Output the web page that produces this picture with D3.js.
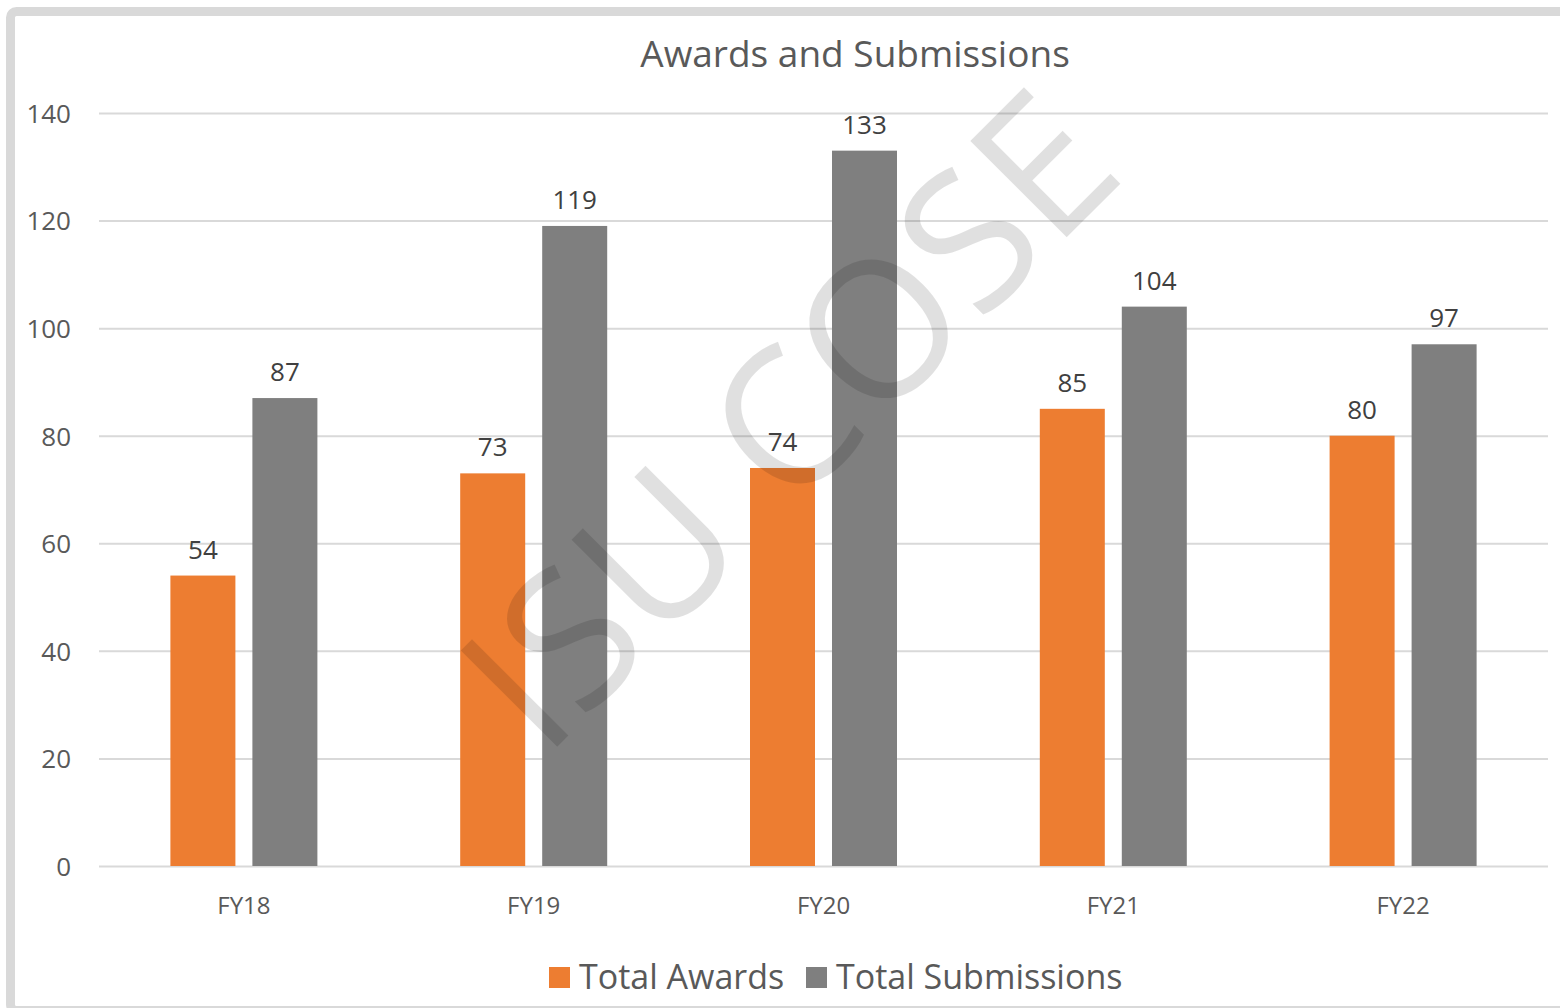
<!DOCTYPE html>
<html>
<head>
<meta charset="utf-8">
<script src="https://cdn.jsdelivr.net/npm/d3@7"></script>
<style>
  body { margin: 0; background: #fff; }
  text { font-family: "Open Sans", Lato, sans-serif; }
</style>
</head>
<body>
<div id="chart-area"></div>
<script>
// Data
var years = ["FY18", "FY19", "FY20", "FY21", "FY22"];
var series = ["Total Awards", "Total Submissions"];
var awards = [54, 73, 74, 85, 80];
var submissions = [87, 119, 133, 104, 97];
var yTicks = [0, 20, 40, 60, 80, 100, 120, 140];
var colors = ["#ED7D31", "#7F7F7F"];

var W = 1560, H = 1008;
var plot = { left: 99, right: 1548, top: 113, bottom: 866 };

var svg = d3.select("#chart-area")
    .append("svg")
        .attr("width", W)
        .attr("height", H);

// Frame
svg.append("rect")
    .attr("x", 10.5)
    .attr("y", 11.5)
    .attr("width", 1600)
    .attr("height", 999)
    .attr("rx", 6)
    .attr("fill", "#fff")
    .attr("stroke", "#d9d9d9")
    .attr("stroke-width", 9);

// Scales
var y = d3.scaleLinear()
    .domain([0, 140])
    .range([plot.bottom, plot.top]);
var x0 = d3.scaleBand()
    .domain(years)
    .range([plot.left, plot.right]);
var x1 = d3.scaleBand()
    .domain(series)
    .range([0, 147])
    .paddingInner(17 / 82);
var color = d3.scaleOrdinal().domain(series).range(colors);

// Gridlines
var yAxisCall = d3.axisLeft(y)
    .tickValues(yTicks)
    .tickSize(-(plot.right - plot.left))
    .tickPadding(28);
var yAxis = svg.append("g")
    .attr("class", "y axis")
    .attr("transform", "translate(" + plot.left + ",0)")
    .call(yAxisCall);
yAxis.select(".domain").remove();
yAxis.selectAll("line")
    .attr("stroke", "#d9d9d9")
    .attr("stroke-width", 2);
yAxis.selectAll("text")
    .attr("fill", "#595959")
    .attr("font-size", "26px")
    .attr("dy", "0.36em");

// X Axis
var xAxisCall = d3.axisBottom(x0).tickSize(0).tickPadding(31);
var xAxis = svg.append("g")
    .attr("class", "x axis")
    .attr("transform", "translate(0," + plot.bottom + ")")
    .call(xAxisCall);
xAxis.select(".domain").remove();
xAxis.selectAll("text")
    .attr("fill", "#595959")
    .attr("font-size", "24px")
    .attr("dy", "0.71em");

// Bars
var rows = years.map(function(yr, i) {
    return { year: yr, values: [
        { key: series[0], value: awards[i] },
        { key: series[1], value: submissions[i] }
    ]};
});

var groups = svg.selectAll("g.group")
    .data(rows)
    .enter().append("g")
        .attr("class", "group")
        .attr("transform", function(d) {
            return "translate(" + (x0(d.year) + x0.bandwidth() / 2 - 73.5) + ",0)";
        });

groups.selectAll("rect")
    .data(function(d) { return d.values; })
    .enter().append("rect")
        .attr("x", function(d) { return x1(d.key); })
        .attr("y", function(d) { return y(d.value); })
        .attr("width", x1.bandwidth())
        .attr("height", function(d) { return y(0) - y(d.value); })
        .attr("fill", function(d) { return color(d.key); });

groups.selectAll("text.label")
    .data(function(d) { return d.values; })
    .enter().append("text")
        .attr("class", "label")
        .attr("x", function(d) { return x1(d.key) + x1.bandwidth() / 2; })
        .attr("y", function(d) { return y(d.value) - 17; })
        .attr("text-anchor", "middle")
        .attr("font-size", "26px")
        .attr("fill", "#404040")
        .text(function(d) { return d.value; });

// Title
svg.append("text")
    .attr("x", 855)
    .attr("y", 67)
    .attr("text-anchor", "middle")
    .attr("font-size", "37px")
    .attr("fill", "#595959")
    .text("Awards and Submissions");

// Legend
var legendX = [549, 806];
series.forEach(function(s, i) {
    var row = svg.append("g")
        .attr("transform", "translate(" + legendX[i] + ",967)");
    row.append("rect")
        .attr("width", 21)
        .attr("height", 21)
        .attr("fill", color(s));
    row.append("text")
        .attr("x", 30)
        .attr("y", 22)
        .attr("font-size", "34px")
        .attr("fill", "#595959")
        .text(s);
});

// Watermark
svg.append("text")
    .attr("transform", "translate(544,760) rotate(-45)")
    .attr("font-size", "191px")
    .attr("fill", "#000")
    .attr("fill-opacity", 0.12)
    .text("ISU COSE");
</script>
</body>
</html>
